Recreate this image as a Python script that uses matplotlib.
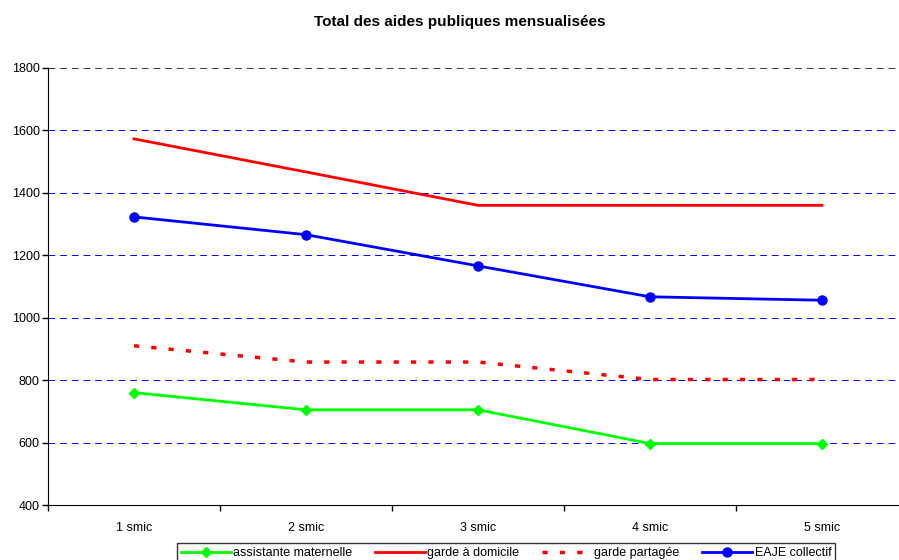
# Total des aides publiques mensualisées - line chart

import matplotlib.pyplot as plt

plt.rcParams['font.family'] = ['Liberation Sans', 'DejaVu Sans']

categories = ["1 smic", "2 smic", "3 smic", "4 smic", "5 smic"]
assistante = [760, 705, 705, 597, 597]
garde_dom = [1573, 1467, 1360, 1360, 1360]
garde_part = [910, 858, 858, 802, 802]
eaje = [1323, 1266, 1166, 1067, 1056]

fig = plt.figure(figsize=(8.99, 5.6), dpi=100)
# axes spans x 48..908 px, y 68..505 px
ax = fig.add_axes([48 / 899, 55 / 560, 860 / 899, 437 / 560])

x = range(len(categories))
ax.plot(x, assistante, color="#00ff00", lw=2, marker="D", ms=5.5, label="assistante maternelle", zorder=3)
ax.plot(x, garde_dom, color="#ff0000", lw=2, label="garde à domicile", zorder=3)
ax.plot(x, garde_part, color="#ff0000", lw=2.5, ls=(0, (1.5, 3.5)), label="garde partagée", zorder=3)
ax.plot(x, eaje, color="#0000ff", lw=2, marker="o", ms=6.5, label="EAJE collectif", zorder=3)

ax.set_xlim(-0.5, 4.5)
ax.set_ylim(400, 1800)
ax.set_yticks(range(400, 1801, 200))
ax.set_xticks(x)
ax.set_xticklabels(categories)
ax.set_xticks([i + 0.5 for i in range(-1, 5)], minor=True)
ax.tick_params(axis="x", which="major", length=0, pad=12, labelsize=9)
ax.tick_params(axis="x", which="minor", length=4, direction="out", width=1)
ax.tick_params(axis="y", length=4, width=1, labelsize=9, pad=2)

for yv in range(600, 1801, 200):
    col = "#333366" if yv == 1800 else "#0000ff"
    ax.axhline(yv, color=col, lw=0.7, ls=(0, (7, 5)), zorder=1)

for s in ["top", "right"]:
    ax.spines[s].set_visible(False)
ax.spines["left"].set_color("black")
ax.spines["bottom"].set_color("black")

fig.text(460 / 899, 1 - 22 / 560, "Total des aides publiques mensualisées",
         ha="center", va="center", fontsize=11, fontweight="bold")

leg = fig.legend(loc="center", bbox_to_anchor=(506 / 899, 1 - 553 / 560), ncol=4,
                 frameon=True, fancybox=False, edgecolor="black", fontsize=9,
                 handlelength=4, handletextpad=0.2, columnspacing=1.8,
                 borderpad=0.3)
leg.get_frame().set_linewidth(1)

fig.savefig("out.png", dpi=100)
